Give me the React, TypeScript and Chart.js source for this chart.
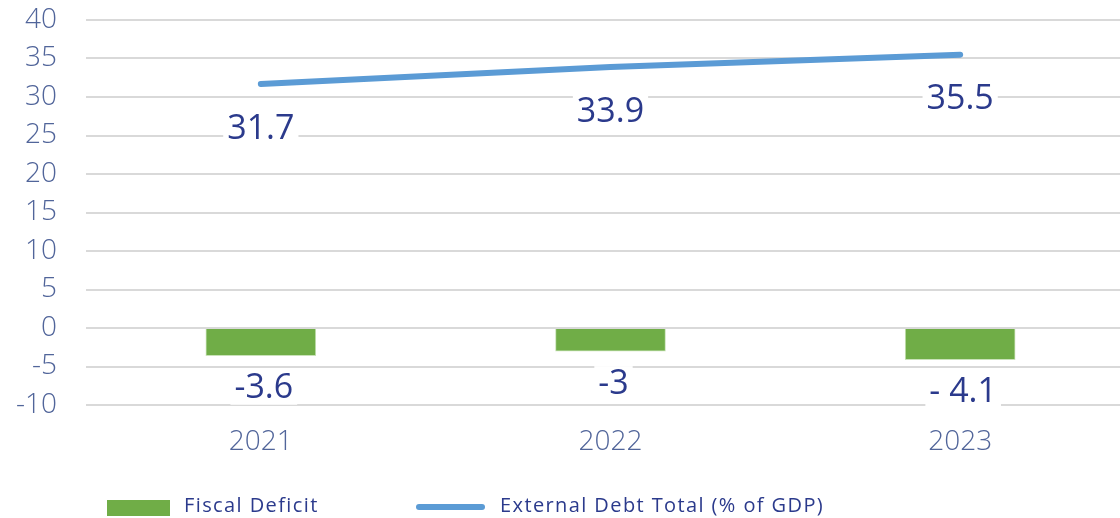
import React, { useEffect, useRef } from "react";
import { Chart, registerables } from "chart.js";

Chart.register(...registerables);

const categories = ["2021", "2022", "2023"];
const fiscalDeficit = [-3.6, -3.0, -4.1];
const fiscalLabels = ["-3.6", "-3", "- 4.1"];
const externalDebt = [31.7, 33.9, 35.5];
const externalLabels = ["31.7", "33.9", "35.5"];
const legendNames = ["Fiscal Deficit", "External Debt Total (% of GDP)"];

const GREEN = "#70ad47";
const BLUE = "#5b9bd5";
const NAVY = "#2b3a8c";
const TICK = "#51659a";
const GRID = "#d9d9d9";

const labelsPlugin = {
  id: "valueLabels",
  afterDatasetsDraw(chart: any) {
    const ctx = chart.ctx;
    ctx.save();
    ctx.font = "34px 'Open Sans'";
    ctx.textAlign = "center";
    ctx.textBaseline = "middle";
    const drawLabel = (text: string, x: number, y: number) => {
      const w = ctx.measureText(text).width;
      ctx.fillStyle = "#ffffff";
      ctx.fillRect(x - w / 2 - 4, y - 17, w + 8, 34);
      ctx.fillStyle = NAVY;
      ctx.fillText(text, x, y + 1);
    };
    const barMeta = chart.getDatasetMeta(0);
    barMeta.data.forEach((el: any, i: number) => {
      drawLabel(fiscalLabels[i], el.x + 3, el.y + 32);
    });
    const lineMeta = chart.getDatasetMeta(1);
    lineMeta.data.forEach((el: any, i: number) => {
      drawLabel(externalLabels[i], el.x, el.y + 44);
    });
    ctx.restore();
  },
  afterDraw(chart: any) {
    const ctx = chart.ctx;
    ctx.save();
    ctx.fillStyle = GREEN;
    ctx.fillRect(107, 500, 63, 16);
    ctx.strokeStyle = BLUE;
    ctx.lineWidth = 6;
    ctx.lineCap = "round";
    ctx.beginPath();
    ctx.moveTo(419, 507);
    ctx.lineTo(482, 507);
    ctx.stroke();
    ctx.fillStyle = NAVY;
    ctx.font = "20px 'Open Sans'";
    try {
      (ctx as any).letterSpacing = "1.4px";
    } catch (e) {}
    ctx.textAlign = "left";
    ctx.textBaseline = "middle";
    ctx.fillText(legendNames[0], 184, 506);
    ctx.fillText(legendNames[1], 500, 506);
    ctx.restore();
  },
};

export default function App() {
  const ref = useRef<HTMLCanvasElement | null>(null);
  useEffect(() => {
    if (!ref.current) return;
    const chart = new Chart(ref.current, {
      type: "bar",
      data: {
        labels: categories,
        datasets: [
          {
            type: "bar",
            label: legendNames[0],
            data: fiscalDeficit,
            backgroundColor: GREEN,
            borderColor: "#c9e2b8",
            borderWidth: 1,
            barThickness: 110,
            order: 2,
          },
          {
            type: "line",
            label: legendNames[1],
            data: externalDebt,
            borderColor: BLUE,
            borderWidth: 6,
            borderCapStyle: "round",
            pointRadius: 0,
            tension: 0,
            order: 1,
          },
        ],
      } as any,
      options: {
        animation: false,
        responsive: false,
        layout: { padding: { top: 20, right: 5, left: 0, bottom: 0 } },
        plugins: { legend: { display: false }, tooltip: { enabled: false } },
        scales: {
          x: {
            offset: true,
            grid: { display: false, drawTicks: false },
            border: { display: false },
            ticks: {
              color: TICK,
              padding: 20,
              font: { family: "'Open Sans'", size: 28, weight: "300" },
            },
            afterFit: (s: any) => {
              s.height = 113;
              s.paddingLeft = 0;
              s.paddingRight = 0;
            },
          },
          y: {
            min: -10,
            max: 40,
            grid: { color: GRID, lineWidth: 2, drawTicks: false },
            border: { display: false },
            ticks: {
              stepSize: 5,
              autoSkip: false,
              color: TICK,
              padding: 29,
              font: { family: "'Open Sans'", size: 28, weight: "300" },
            },
            afterFit: (s: any) => {
              s.width = 86;
              s.paddingTop = 0;
              s.paddingBottom = 0;
            },
          },
        },
      } as any,
      plugins: [labelsPlugin],
    });
    return () => chart.destroy();
  }, []);
  return (
    <div
      style={{
        position: "fixed",
        left: 0,
        top: 0,
        width: 1120,
        height: 518,
        overflow: "hidden",
        background: "#fff",
      }}
    >
      <canvas ref={ref} width={1140} height={518} style={{ display: "block" }} />
    </div>
  );
}
